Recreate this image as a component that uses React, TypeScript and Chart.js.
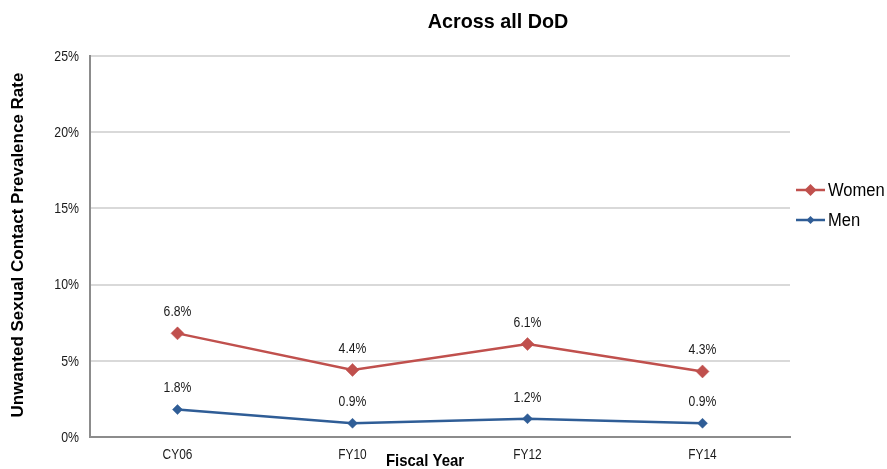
import React, { useEffect, useRef } from "react";
import { Chart, registerables } from "chart.js";

Chart.register(...registerables);

const categories = ["CY06", "FY10", "FY12", "FY14"];
const womenValues = [6.8, 4.4, 6.1, 4.3];
const menValues = [1.8, 0.9, 1.2, 0.9];
const yTickMax = 25;
const yTickStep = 5;
const chartTitle = "Across all DoD";
const yAxisTitle = "Unwanted Sexual Contact Prevalence Rate";
const xAxisTitle = "Fiscal Year";
const seriesNames = ["Women", "Men"];

const FONT = "'Liberation Sans', Arial, sans-serif";
const RED = "#C0504D";
const BLUE = "#2F5D96";
const TEXT = "#1a1a1a";

function drawText(
  ctx: CanvasRenderingContext2D,
  text: string,
  x: number,
  y: number,
  size: number,
  bold: boolean,
  sx: number,
  align: CanvasTextAlign,
  rotate = 0
) {
  ctx.save();
  ctx.translate(x, y);
  if (rotate) ctx.rotate(rotate);
  ctx.scale(sx, 1);
  ctx.font = `${bold ? "bold " : ""}${size}px ${FONT}`;
  ctx.textAlign = align;
  ctx.textBaseline = "middle";
  ctx.fillText(text, 0, 0);
  ctx.restore();
}

const overlayPlugin = {
  id: "overlay",
  afterDatasetsDraw(chart: any) {
    const ctx: CanvasRenderingContext2D = chart.ctx;
    ctx.save();
    ctx.fillStyle = TEXT;
    const xs = chart.scales.x;
    const ys = chart.scales.y;
    // y tick labels
    ys.ticks.forEach((t: any) => {
      drawText(ctx, t.value + "%", xs.left - 11, ys.getPixelForValue(t.value) + 1, 14, false, 0.88, "right");
    });
    // x tick labels
    categories.forEach((c, i) => {
      drawText(ctx, c, xs.getPixelForValue(i), ys.bottom + 18, 14, false, 0.85, "center");
    });
    // data labels
    chart.data.datasets.forEach((ds: any, di: number) => {
      const meta = chart.getDatasetMeta(di);
      meta.data.forEach((pt: any, i: number) => {
        const v = ds.data[i];
        drawText(ctx, v.toFixed(1) + "%", pt.x, pt.y - 21, 14, false, 0.87, "center");
      });
    });
    ctx.fillStyle = "#000";
    // title
    drawText(ctx, chartTitle, 498, 22, 21, true, 0.94, "center");
    // x axis title
    drawText(ctx, xAxisTitle, 425, 461, 17, true, 0.88, "center");
    // y axis title
    drawText(ctx, yAxisTitle, 18, 245, 17, true, 1, "center", -Math.PI / 2);
    // legend
    const items = [
      { name: seriesNames[0], color: RED, y: 190, r: 6 },
      { name: seriesNames[1], color: BLUE, y: 220, r: 4 },
    ];
    items.forEach((it) => {
      ctx.strokeStyle = it.color;
      ctx.lineWidth = 2.5;
      ctx.beginPath();
      ctx.moveTo(796, it.y);
      ctx.lineTo(825, it.y);
      ctx.stroke();
      ctx.fillStyle = it.color;
      ctx.beginPath();
      ctx.moveTo(810.5, it.y - it.r);
      ctx.lineTo(810.5 + it.r, it.y);
      ctx.lineTo(810.5, it.y + it.r);
      ctx.lineTo(810.5 - it.r, it.y);
      ctx.closePath();
      ctx.fill();
      ctx.fillStyle = "#000";
      drawText(ctx, it.name, 828, it.y + 1, 18, false, 0.92, "left");
    });
    ctx.restore();
  },
};

export default function App() {
  const ref = useRef<HTMLCanvasElement>(null);
  useEffect(() => {
    if (!ref.current) return;
    const chart = new Chart(ref.current, {
      type: "line",
      data: {
        labels: categories,
        datasets: [
          {
            label: seriesNames[0],
            data: womenValues,
            borderColor: RED,
            backgroundColor: RED,
            borderWidth: 2.5,
            pointStyle: "rectRot",
            pointRadius: 6.5,
            pointBorderWidth: 1,
            pointBorderColor: "rgba(192,80,77,0.5)",
            tension: 0,
          },
          {
            label: seriesNames[1],
            data: menValues,
            borderColor: BLUE,
            backgroundColor: BLUE,
            borderWidth: 2.5,
            pointStyle: "rectRot",
            pointRadius: 5,
            pointBorderWidth: 1,
            pointBorderColor: "rgba(47,93,150,0.5)",
            tension: 0,
          },
        ],
      },
      options: {
        animation: false,
        responsive: false,
        devicePixelRatio: 1,
        layout: { padding: { left: 0, right: 97, top: 56, bottom: 0 } },
        plugins: {
          legend: { display: false },
          title: { display: false },
          tooltip: { enabled: false },
        },
        scales: {
          x: {
            offset: true,
            grid: { display: false },
            border: { display: true, color: "#8c8c8c", width: 2 },
            ticks: { display: false },
            afterFit: (s: any) => {
              s.height = 32;
            },
          },
          y: {
            min: 0,
            max: yTickMax,
            ticks: { stepSize: yTickStep, display: false },
            grid: { color: "#d9d9d9", lineWidth: 2, drawTicks: false },
            border: { display: true, color: "#8c8c8c", width: 2 },
            afterFit: (s: any) => {
              s.width = 90;
            },
          },
        },
      },
      plugins: [overlayPlugin],
    });
    return () => chart.destroy();
  }, []);
  return (
    <div style={{ position: "fixed", left: 0, top: 0, width: 887, height: 469, background: "#fff" }}>
      <canvas ref={ref} width={887} height={469} />
    </div>
  );
}
